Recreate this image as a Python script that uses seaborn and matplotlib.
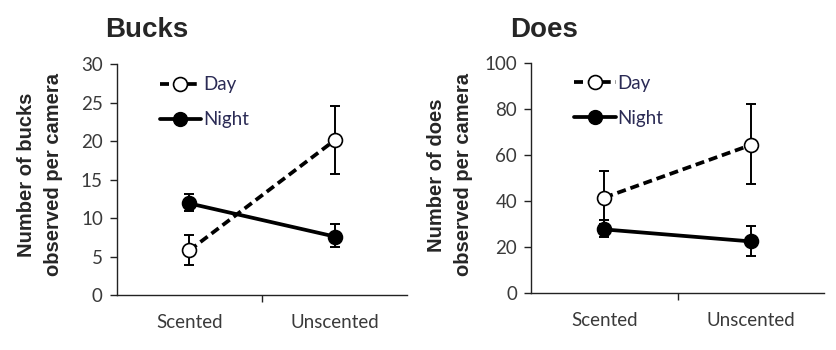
import numpy as np
import pandas as pd
import matplotlib
matplotlib.use("Agg")
import matplotlib.pyplot as plt
import seaborn as sns
from matplotlib.lines import Line2D

# ---- data ----
categories = ["Scented", "Unscented"]
series = ["Day", "Night"]

bucks_day = [5.8, 20.1]
bucks_day_lo = [3.9, 15.7]
bucks_day_hi = [7.8, 24.6]
bucks_night = [11.9, 7.6]
bucks_night_lo = [10.9, 6.2]
bucks_night_hi = [13.1, 9.2]

does_day = [41.5, 64.3]
does_day_lo = [30.0, 47.2]
does_day_hi = [52.9, 82.2]
does_night = [27.7, 22.5]
does_night_lo = [24.5, 16.3]
does_night_hi = [31.8, 29.0]

bucks_yticks = [0, 5, 10, 15, 20, 25, 30]
does_yticks = [0, 20, 40, 60, 80, 100]

sns.set_theme(style="white")
plt.rcParams["font.family"] = ["Lato", "DejaVu Sans"]

fig = plt.figure(figsize=(8.36, 3.5), dpi=100)
ax1 = fig.add_axes([0.1396, 0.157, 0.3476, 0.66])
ax2 = fig.add_axes([0.6352, 0.162, 0.3505, 0.659])

tick_color = "#3a3a3a"
lw = 2.7
dash = (0, (2.4, 1.3))

def panel(ax, title, ylabel, day, dlo, dhi, night, nlo, nhi, yticks, title_x, lab_x):
    xs = np.arange(len(categories))
    df = pd.DataFrame({"x": np.concatenate([xs, xs]),
                       "y": day + night,
                       "series": [series[0]] * 2 + [series[1]] * 2})
    for s, vals, lo, hi, ls, mfc in [(series[0], day, dlo, dhi, dash, "white"),
                                     (series[1], night, nlo, nhi, "-", "black")]:
        v = np.array(vals); l = np.array(lo); h = np.array(hi)
        ax.errorbar(xs, v, yerr=[v - l, h - v], fmt="none", ecolor="black",
                    elinewidth=1.4, capsize=3.5, capthick=1.4, zorder=2)
        sub = df[df["series"] == s]
        sns.lineplot(data=sub, x="x", y="y", ax=ax, color="black", linewidth=lw,
                     linestyle=ls, marker="o", markersize=10, markerfacecolor=mfc,
                     markeredgecolor="black", markeredgewidth=1.2, zorder=3,
                     legend=False)
    ax.set_xlim(-0.5, 1.5)
    ax.set_ylim(yticks[0], yticks[-1])
    ax.set_yticks(yticks)
    ax.set_yticklabels([str(t) for t in yticks], color=tick_color, fontsize=13.5)
    ax.set_xticks([0.5])
    ax.set_xticklabels([""])
    for i, c in enumerate(categories):
        ax.text(i, -0.08, c, transform=ax.get_xaxis_transform(), ha="center",
                va="top", fontsize=13.5, color=tick_color)
    ax.set_xlabel("")
    ax.set_ylabel("")
    for sp in ["top", "right"]:
        ax.spines[sp].set_visible(False)
    for sp in ["left", "bottom"]:
        ax.spines[sp].set_color("#222222")
        ax.spines[sp].set_linewidth(1.0)
    ax.tick_params(axis="both", which="both", direction="out", length=5,
                   width=1.0, color="#222222", left=True, bottom=True)
    ax.tick_params(axis="y", pad=5)
    handles = [Line2D([], [], color="black", linewidth=lw, linestyle=dash,
                      marker="o", markersize=10, markerfacecolor="white",
                      markeredgecolor="black", markeredgewidth=1.2),
               Line2D([], [], color="black", linewidth=lw, linestyle="-",
                      marker="o", markersize=10, markerfacecolor="black",
                      markeredgecolor="black")]
    leg = ax.legend(handles, series, loc="upper left", bbox_to_anchor=(0.09, 1.02),
                    frameon=False, fontsize=13.5, handlelength=2.2, handletextpad=0.1,
                    labelspacing=0.95, numpoints=1)
    for t in leg.get_texts():
        t.set_color("#2b2b55")
    fig.text(title_x, 0.915, title, fontsize=20, fontweight="bold",
             family=["Liberation Sans", "DejaVu Sans"], ha="center", va="center")
    fig.text(lab_x, 0.5, ylabel, rotation=90, fontsize=14.5, fontweight="bold",
             family=["Liberation Sans", "DejaVu Sans"], ha="center", va="center",
             linespacing=1.5, multialignment="center")

panel(ax1, "Bucks", "Number of bucks\nobserved per camera",
      bucks_day, bucks_day_lo, bucks_day_hi, bucks_night, bucks_night_lo, bucks_night_hi,
      bucks_yticks, 0.175, 0.048)
panel(ax2, "Does", "Number of does\nobserved per camera",
      does_day, does_day_lo, does_day_hi, does_night, does_night_lo, does_night_hi,
      does_yticks, 0.651, 0.538)

fig.savefig("out.png", dpi=100)
